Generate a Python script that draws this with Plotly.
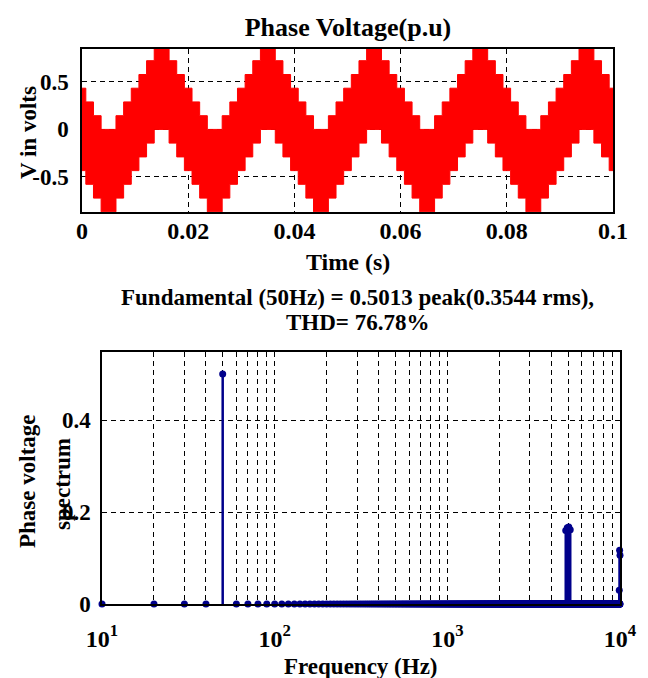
import plotly.graph_objects as go

# ---------------- data: time-domain phase voltage (p.u) -----------------
# staircase envelopes of the PWM band (segment start times in s)
env_t = [0.0, 0.00072, 0.00216, 0.0036, 0.0064, 0.00784, 0.00928, 0.01072, 0.01216, 0.0136, 0.0164, 0.01784, 0.01928,
         0.02072, 0.02216, 0.0236, 0.0264, 0.02784, 0.02928, 0.03072, 0.03216, 0.0336, 0.0364, 0.03784, 0.03928,
         0.04072, 0.04216, 0.0436, 0.0464, 0.04784, 0.04928, 0.05072, 0.05216, 0.0536, 0.0564, 0.05784, 0.05928,
         0.06072, 0.06216, 0.0636, 0.0664, 0.06784, 0.06928, 0.07072, 0.07216, 0.0736, 0.0764, 0.07784, 0.07928,
         0.08072, 0.08216, 0.0836, 0.0864, 0.08784, 0.08928, 0.09072, 0.09216, 0.0936, 0.0964, 0.09784, 0.09928,
         0.1]
upper_v = [0.433, 0.289, 0.144, 0.0, 0.144, 0.289, 0.433, 0.577, 0.722, 0.866, 0.722, 0.577, 0.433,
           0.289, 0.144, 0.0, 0.144, 0.289, 0.433, 0.577, 0.722, 0.866, 0.722, 0.577, 0.433,
           0.289, 0.144, 0.0, 0.144, 0.289, 0.433, 0.577, 0.722, 0.866, 0.722, 0.577, 0.433,
           0.289, 0.144, 0.0, 0.144, 0.289, 0.433, 0.577, 0.722, 0.866, 0.722, 0.577, 0.433,
           0.289, 0.144, 0.0, 0.144, 0.289, 0.433, 0.577, 0.722, 0.866, 0.722, 0.577, 0.433,
           0.433]
lower_v = [-0.433, -0.577, -0.722, -0.866, -0.722, -0.577, -0.433, -0.289, -0.144, 0.0, -0.144, -0.289, -0.433,
           -0.577, -0.722, -0.866, -0.722, -0.577, -0.433, -0.289, -0.144, 0.0, -0.144, -0.289, -0.433,
           -0.577, -0.722, -0.866, -0.722, -0.577, -0.433, -0.289, -0.144, 0.0, -0.144, -0.289, -0.433,
           -0.577, -0.722, -0.866, -0.722, -0.577, -0.433, -0.289, -0.144, 0.0, -0.144, -0.289, -0.433,
           -0.577, -0.722, -0.866, -0.722, -0.577, -0.433, -0.289, -0.144, 0.0, -0.144, -0.289, -0.433,
           -0.433]

time_ticks = [0, 0.02, 0.04, 0.06, 0.08, 0.1]
time_ticktext = ["0", "0.02", "0.04", "0.06", "0.08", "0.1"]
volt_ticks = [-0.5, 0, 0.5]
volt_ticktext = ["-0.5", "0", "0.5"]

# ---------------- data: harmonic spectrum -----------------
bin_step_hz = 10
bin_max_hz = 10000
spec_freq = [50, 4850, 4950, 5050, 5150, 9900, 9950, 10000]
spec_mag = [0.5013, 0.16, 0.166, 0.168, 0.162, 0.03, 0.117, 0.106]
freq_ticks = [10, 100, 1000, 10000]
freq_ticktext = ["10<sup>1</sup>", "10<sup>2</sup>", "10<sup>3</sup>", "10<sup>4</sup>"]
freq_minor = [20, 30, 40, 50, 60, 70, 80, 90, 200, 300, 400, 500, 600, 700, 800, 900,
              2000, 3000, 4000, 5000, 6000, 7000, 8000, 9000]
spec_ticks = [0, 0.2, 0.4]
spec_ticktext = ["0", "0.2", "0.4"]

# ---------------- figure -----------------
W, H = 648, 678
FONT = "Liberation Serif"
RED = "#ff0000"
NAVY = "#00008b"
DASH = "5px,4px"

def px(x):
    return x / W

def py(y):
    return (H - y) / H

fig = go.Figure()

# PWM band (filled between staircase envelopes)
fig.add_trace(go.Scatter(x=env_t, y=lower_v, mode="lines", line=dict(color=RED, width=1, shape="hv"),
                         xaxis="x", yaxis="y", showlegend=False, hoverinfo="skip"))
fig.add_trace(go.Scatter(x=env_t, y=upper_v, mode="lines", line=dict(color=RED, width=1, shape="hv"),
                         fill="tonexty", fillcolor=RED, xaxis="x", yaxis="y", showlegend=False))

# spectrum stems
mag_of = dict(zip(spec_freq, spec_mag))
bins = list(range(bin_step_hz, bin_max_hz + 1, bin_step_hz))
bin_vals = [mag_of.get(f, 0.0) for f in bins]
sx, sy = [], []
for f, v in zip(spec_freq, spec_mag):
    sx += [f, f, None]
    sy += [0, v, None]
fig.add_trace(go.Scatter(x=sx, y=sy, mode="lines", line=dict(color=NAVY, width=2.5),
                         xaxis="x2", yaxis="y2", showlegend=False))
fig.add_trace(go.Scatter(x=bins, y=bin_vals, mode="markers", marker=dict(color=NAVY, size=7, symbol="circle"),
                         cliponaxis=False, xaxis="x2", yaxis="y2", showlegend=False))

def tfont(size):
    return dict(family=FONT, size=size, color="black", weight="bold")

base = dict(showgrid=True, gridcolor="black", griddash=DASH, gridwidth=1.4, automargin=False,
            showline=True, linecolor="black", linewidth=1.5, mirror=True, zeroline=False, ticks="")

fig.update_layout(
    width=W, height=H, margin=dict(l=0, r=0, t=0, b=0, pad=0, autoexpand=False),
    paper_bgcolor="white", plot_bgcolor="white",
    title=dict(text="Phase Voltage(p.u)", x=px(348), y=py(27), xref="container", yref="container",
               xanchor="center", yanchor="middle", font=tfont(26)),
    xaxis=dict(domain=[px(82), px(613)], range=[0, 0.1], tickvals=time_ticks, ticktext=time_ticktext,
               anchor="y", tickfont=tfont(24), ticklabelstandoff=-4, **base),
    yaxis=dict(domain=[py(212), py(49)], range=[-0.868, 0.845], tickvals=volt_ticks, ticktext=volt_ticktext,
               anchor="x", tickfont=tfont(23), ticklabelstandoff=7, **base),
    xaxis2=dict(domain=[px(102), px(620)], type="log", range=[1, 4], tickvals=freq_ticks, ticktext=freq_ticktext,
                minor=dict(tickvals=freq_minor, showgrid=True, gridcolor="black", griddash=DASH, gridwidth=1.4),
                anchor="y2", tickfont=tfont(24), ticklabelstandoff=12, **base),
    yaxis2=dict(domain=[py(604), py(352)], range=[0, 0.549], tickvals=spec_ticks, ticktext=spec_ticktext,
                anchor="x2", tickfont=tfont(23), ticklabelstandoff=5, **base),
)

def label(text, x, y, size=23, angle=0):
    fig.add_annotation(text="<b>" + text + "</b>", x=px(x), y=py(y), xref="paper", yref="paper", showarrow=False,
                       xanchor="center", yanchor="middle", textangle=angle,
                       font=dict(family=FONT, size=size, color="black"))

label("Time (s)", 348, 262, 24)
label("V in volts", 28, 133, 23, -90)
label("Fundamental (50Hz) = 0.5013 peak(0.3544 rms),", 357, 297, 23)
label("THD= 76.78%", 357, 322, 23)
label("Frequency (Hz)", 361, 666, 23)
label("Phase voltage", 28, 481, 23, -90)
label("spectrum", 62, 484, 23, -90)

fig.write_html("out.html", config={"displayModeBar": False},
               post_script="document.body.style.margin='0';document.body.style.overflow='hidden';")
